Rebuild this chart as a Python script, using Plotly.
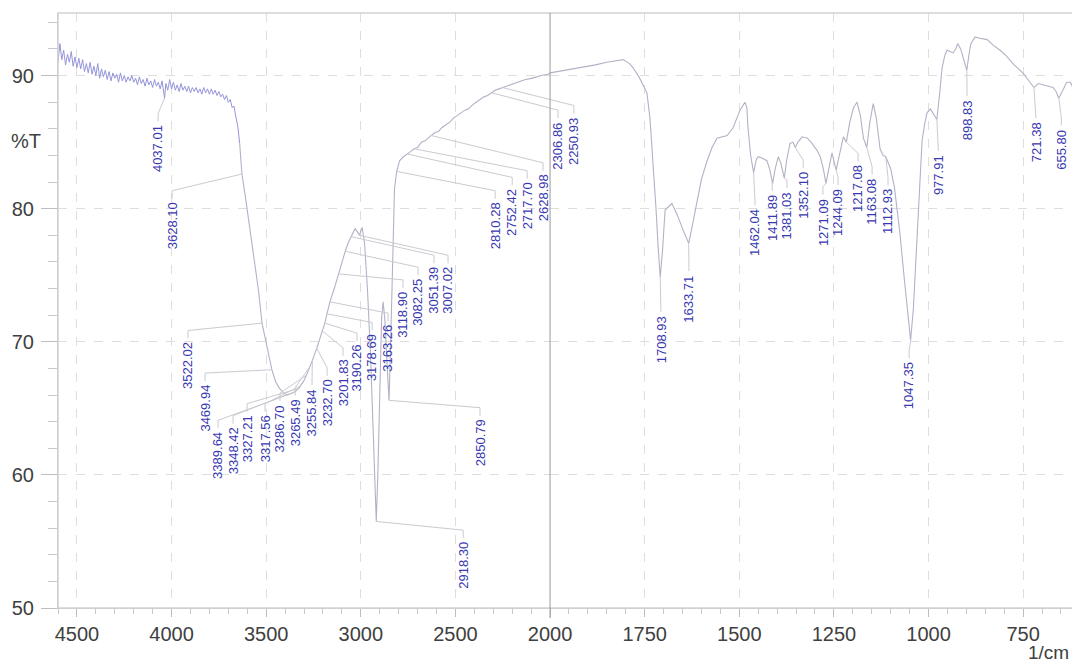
import plotly.graph_objects as go

# ---------------- data: IR spectrum (wavenumber in 1/cm, %T) ----------------
# high-wavenumber part (4600 -> 2000)
wn_high = [4600, 4590, 4580, 4570, 4560, 4550, 4540, 4530, 4520, 4510, 4500, 4490, 4480, 4470, 4460,
           4450, 4440, 4430, 4420, 4410, 4400, 4390, 4380, 4370, 4360, 4350, 4340, 4330, 4320, 4310,
           4300, 4290, 4280, 4270, 4260, 4250, 4240, 4230, 4220, 4210, 4200, 4190, 4180, 4170, 4160,
           4150, 4140, 4130, 4120, 4110, 4100, 4090, 4080, 4070, 4060, 4050, 4037.01, 4030, 4020, 4010,
           4000, 3990, 3980, 3970, 3960, 3950, 3940, 3930, 3920, 3910, 3900, 3890, 3880, 3870, 3860,
           3850, 3840, 3830, 3820, 3810, 3800, 3790, 3780, 3770, 3760, 3750, 3740, 3730, 3720, 3710,
           3700, 3690, 3680, 3670, 3660, 3650, 3640, 3628.10, 3610, 3590, 3570, 3550, 3540, 3522.02,
           3500, 3485, 3469.94, 3450, 3430, 3410, 3389.64, 3370, 3348.42, 3327.21, 3317.56, 3300,
           3286.70, 3265.49, 3255.84, 3232.70, 3201.83, 3190.26, 3178.69, 3163.26, 3140, 3118.90, 3100,
           3082.25, 3065, 3051.39, 3030, 3015, 3007.02, 2993, 2980, 2965, 2950, 2935, 2925, 2918.30,
           2910, 2900, 2890, 2882, 2872, 2862, 2850.79, 2842, 2832, 2822, 2810.28, 2795, 2775, 2752.42,
           2735, 2717.70, 2700, 2680, 2660, 2645, 2628.98, 2610, 2590, 2570, 2550, 2530, 2510, 2490,
           2470, 2450, 2430, 2410, 2390, 2370, 2350, 2330, 2306.86, 2290, 2270, 2250.93, 2230, 2210,
           2190, 2170, 2150, 2130, 2110, 2090, 2070, 2050, 2030, 2010, 2000]
t_high = [91.0, 92.4, 91.2, 91.9, 90.8, 91.6, 91.0, 91.8, 90.7, 91.4, 90.6, 91.3, 90.5, 91.2, 90.3,
          90.9, 90.2, 91.0, 90.1, 90.7, 90.0, 90.9, 89.8, 90.5, 89.9, 90.4, 89.7, 90.3, 89.6, 90.2,
          89.8, 90.1, 89.5, 90.2, 89.6, 90.0, 89.5, 89.9, 89.6, 90.0, 89.5, 89.8, 89.3, 89.9, 89.4,
          89.7, 89.2, 89.8, 89.3, 89.6, 89.1, 89.7, 89.2, 89.5, 89.0, 89.6, 88.3, 89.4, 88.9, 89.7,
          89.0, 89.5, 88.9, 89.3, 88.8, 89.4, 88.9, 89.2, 88.8, 89.2, 88.7, 89.1, 88.8, 89.1, 88.7,
          89.0, 88.6, 89.1, 88.7, 89.0, 88.6, 89.0, 88.6, 88.9, 88.5, 88.8, 88.4, 88.6, 88.2, 88.5,
          88.0, 88.2, 87.6, 87.7, 86.9, 86.2, 84.9, 82.6, 80.9, 78.9, 77.0, 75.0, 73.8, 71.4,
          69.8, 68.8, 67.9, 67.0, 66.5, 66.2, 66.0, 66.1, 66.25, 66.5, 66.7, 67.1,
          67.5, 68.2, 68.6, 69.5, 70.8, 71.4, 72.1, 73.0, 74.0, 75.1, 76.0,
          76.8, 77.5, 77.9, 78.5, 78.2, 78.0, 78.6, 77.4, 74.0, 69.5, 63.5, 58.8, 56.5,
          60.0, 67.0, 71.8, 73.0, 71.5, 68.5, 65.6, 70.0, 76.5, 81.5, 82.8, 83.6, 83.9, 84.1,
          84.3, 84.5, 84.6, 85.0, 85.1, 85.3, 85.5, 85.7, 85.8, 86.1, 86.3, 86.5, 86.8, 87.0,
          87.2, 87.4, 87.5, 87.8, 88.0, 88.2, 88.4, 88.5, 88.7, 88.9, 89.0, 89.1, 89.2, 89.3,
          89.4, 89.5, 89.6, 89.7, 89.75, 89.8, 89.9, 90.0, 90.05, 90.1, 90.2]

# low-wavenumber part (2000 -> 605, expanded scale)
wn_low = [2000, 1970, 1940, 1913, 1880, 1850, 1830, 1807, 1790, 1781, 1765, 1755, 1744, 1736, 1728,
          1720, 1715, 1708.93, 1703, 1696, 1685, 1678, 1670, 1662, 1650, 1640, 1633.71, 1625, 1612,
          1600, 1585, 1572, 1559, 1545, 1532, 1516, 1505, 1498, 1485, 1480, 1477, 1470, 1462.04,
          1455, 1450, 1440, 1427, 1420, 1411.89, 1405, 1397, 1390, 1381.03, 1375, 1366, 1358,
          1352.10, 1345, 1334, 1320, 1308, 1295, 1286, 1278, 1271.09, 1262, 1255, 1244.09, 1235,
          1225, 1217.08, 1208, 1198, 1189, 1180, 1172, 1163.08, 1155, 1146, 1138, 1128, 1120,
          1112.93, 1100, 1090, 1083, 1075, 1067, 1057, 1047.35, 1040, 1030, 1023, 1017, 1010, 1004,
          995, 985, 977.91, 970, 964, 957, 951, 943, 935, 928, 923, 915, 905, 898.83, 893, 888, 877,
          865, 845, 830, 811, 795, 777, 765, 751, 740, 730, 721.38, 710, 697, 685, 671, 663, 655.80,
          645, 635, 625, 617, 609, 605]
t_low = [90.2, 90.35, 90.5, 90.6, 90.8, 91.0, 91.1, 91.2, 90.9, 90.6, 89.9, 89.3, 88.7, 86.8, 83.6,
         80.0, 77.4, 74.85, 76.8, 79.9, 80.2, 80.4, 79.9, 79.4, 78.5, 77.8, 77.4, 78.6, 80.6,
         82.2, 83.6, 84.6, 85.3, 85.4, 85.5, 86.1, 86.9, 87.4, 88.0, 87.6, 86.1, 84.0, 82.7,
         83.7, 83.9, 83.8, 83.6, 83.0, 81.9, 83.0, 83.9, 83.4, 82.3, 83.6, 84.9, 85.0,
         84.6, 85.0, 85.4, 85.3, 84.9, 84.4, 83.9, 83.0, 81.9, 83.3, 84.2, 82.9, 84.0,
         85.4, 85.0, 86.5, 87.6, 88.0, 87.0, 85.3, 84.6, 86.5, 87.9, 86.8, 84.5, 84.0,
         83.9, 83.0, 81.6, 80.1, 78.0, 75.6, 72.5, 70.1, 72.5, 78.2, 82.0, 85.1, 86.4, 87.2,
         87.5, 87.0, 86.7, 88.8, 90.6, 91.5, 91.9, 91.8, 91.7, 92.0, 92.4, 92.0, 91.0, 90.4, 91.6, 92.4, 92.9,
         92.8, 92.7, 92.3, 91.9, 91.5, 90.9, 90.6, 90.2, 89.8, 89.4, 89.1, 89.4, 89.3, 89.2, 89.1, 88.8, 88.3,
         88.9, 89.5, 89.5, 89.0, 88.9, 88.5]

# labelled peaks (wavenumbers; %T is looked up in the spectrum)
peak_wn = [4037.01, 3628.10, 3522.02, 3469.94, 3389.64, 3348.42, 3327.21, 3317.56, 3286.70,
           3265.49, 3255.84, 3232.70, 3201.83, 3190.26, 3178.69, 3163.26, 3118.90, 3082.25,
           3051.39, 3007.02, 2918.30, 2850.79, 2810.28, 2752.42, 2717.70, 2628.98, 2306.86,
           2250.93, 1708.93, 1633.71, 1462.04, 1411.89, 1381.03, 1352.10, 1271.09, 1244.09,
           1217.08, 1163.08, 1112.93, 1047.35, 977.91, 898.83, 721.38, 655.80]

# ---------------- layout: where each peak label is placed (wavenumber, %T of label top) -------
label_pos = [(4071, 86.4), (3997, 80.6), (3913, 70.1), (3823, 66.9), (3754, 63.35), (3675, 63.7),
             (3601, 64.6), (3506, 64.6), (3427, 65.4), (3347, 65.8), (3258, 66.6), (3178, 67.3),
             (3094, 68.8), (3020, 69.9), (2940, 70.7), (2856, 71.4), (2777, 73.9), (2697, 74.85),
             (2613, 75.75), (2539, 75.75), (2459, 55.1), (2370, 64.3), (2290, 80.6), (2200, 81.6),
             (2121, 82.1), (2037, 82.7), (1979, 86.65), (1937, 87.0), (1707, 72.1), (1633, 75.15),
             (1458, 80.1), (1413, 81.2), (1374, 81.4), (1331, 82.9), (1279, 80.9), (1239, 81.6),
             (1186, 83.4), (1149, 82.4), (1107, 81.6), (1051, 68.6), (974, 84.2), (898, 88.3),
             (716, 86.65), (649, 86.1)]

SPLIT = 2000
LEFT_RANGE = [4600, 2000]
RIGHT_RANGE = [2000, 605]
D = 0.4824  # paper fraction of the compressed (high wavenumber) panel
Y_RANGE = [50, 94.7]

LABEL_COLOR = "#3838b0"
LEADER_COLOR = "#cacad2"
LINE_COLOR = "#b2b2c6"
AXIS_TEXT = "#404040"
FONT = "Liberation Sans, Arial, sans-serif"

spec = dict(zip(wn_high, t_high))
spec.update(dict(zip(wn_low, t_low)))

k_left = D / (LEFT_RANGE[0] - LEFT_RANGE[1])
k_right = (1 - D) / (RIGHT_RANGE[0] - RIGHT_RANGE[1])


def paper_x(w):
    if w >= SPLIT:
        return (LEFT_RANGE[0] - w) * k_left
    return D + (RIGHT_RANGE[0] - w) * k_right


fig = go.Figure()

# spectrum: noisy region, rest of high part, low part
n_noise = wn_high.index(3640) + 1
fig.add_trace(go.Scatter(x=wn_high[:n_noise], y=t_high[:n_noise], mode="lines",
                         line=dict(color="#9595da", width=1), xaxis="x", yaxis="y",
                         hoverinfo="skip", showlegend=False))
fig.add_trace(go.Scatter(x=wn_high[n_noise - 1:], y=t_high[n_noise - 1:], mode="lines",
                         line=dict(color=LINE_COLOR, width=1.1), xaxis="x", yaxis="y",
                         showlegend=False))
fig.add_trace(go.Scatter(x=wn_low, y=t_low, mode="lines",
                         line=dict(color=LINE_COLOR, width=1.1), xaxis="x2", yaxis="y",
                         showlegend=False))

# leader lines
lead = {"x": ([], []), "x2": ([], [])}
annotations = []
for w, (lw, ltop) in zip(peak_wn, label_pos):
    t0 = spec[w]
    p1 = (lw, ltop + 0.75)
    p2 = (lw, ltop + 0.15)
    ax0 = "x" if w >= SPLIT else "x2"
    ax1 = "x" if lw >= SPLIT else "x2"
    if ax0 == ax1:
        xs, ys = lead[ax0]
        xs += [w, p1[0], p2[0], None]
        ys += [t0, p1[1], p2[1], None]
    else:
        a, b = paper_x(w), paper_x(lw)
        f = (D - a) / (b - a)
        tc = t0 + f * (p1[1] - t0)
        xs, ys = lead[ax0]
        xs += [w, SPLIT, None]
        ys += [t0, tc, None]
        xs, ys = lead[ax1]
        xs += [SPLIT, p1[0], p2[0], None]
        ys += [tc, p1[1], p2[1], None]
    annotations.append(dict(x=lw, y=ltop, xref=ax1, yref="y", text=f"{w:.2f}",
                            textangle=-90, xanchor="center", yanchor="top", showarrow=False,
                            font=dict(size=13, color=LABEL_COLOR, family=FONT)))

for ax, (xs, ys) in lead.items():
    fig.add_trace(go.Scatter(x=xs, y=ys, mode="lines", line=dict(color=LEADER_COLOR, width=1),
                             xaxis=ax, yaxis="y", hoverinfo="skip", showlegend=False))

annotations.append(dict(x=-0.0314, y=0.785, xref="paper", yref="paper", text="%T",
                        xanchor="center", yanchor="middle", showarrow=False,
                        font=dict(size=20, color=AXIS_TEXT, family=FONT)))
annotations.append(dict(x=0.9715, y=-0.0756, xref="paper", yref="paper", text="1/cm",
                        xanchor="center", yanchor="middle", showarrow=False,
                        font=dict(size=19, color=AXIS_TEXT, family=FONT)))

grid = dict(showgrid=True, gridcolor="#dedede", griddash="dash", gridwidth=1)
common_x = dict(ticks="outside", ticklen=8, tickcolor="#bdbdbd", showline=True,
                linecolor="#c4c4c4", zeroline=False, automargin=False,
                tickfont=dict(size=20, color=AXIS_TEXT, family=FONT),
                ticklabelstandoff=0, **grid)

# the page body has an 8px margin, so the figure is sized/offset to fit the 1080x664 window
fig.update_layout(
    width=1072, height=656,
    margin=dict(l=50, r=2, t=5, b=56, autoexpand=False),
    plot_bgcolor="white", paper_bgcolor="white",
    xaxis=dict(domain=[0, D], range=LEFT_RANGE, tickvals=[4500, 4000, 3500, 3000, 2500],
               minor=dict(dtick=100, tick0=0, ticks="outside", ticklen=5, tickcolor="#c8c8c8"),
               anchor="y", **common_x),
    xaxis2=dict(domain=[D, 1], range=RIGHT_RANGE, tickvals=[2000, 1750, 1500, 1250, 1000, 750],
                minor=dict(dtick=50, tick0=0, ticks="outside", ticklen=5, tickcolor="#c8c8c8"),
                anchor="y", **common_x),
    yaxis=dict(range=Y_RANGE, tickvals=[50, 60, 70, 80, 90], ticks="outside", ticklen=16,
               tickcolor="#bdbdbd", showline=True, linecolor="#c4c4c4", zeroline=False,
               automargin=False,
               minor=dict(dtick=2, tick0=0, ticks="outside", ticklen=9, tickcolor="#c8c8c8"),
               tickfont=dict(size=20, color=AXIS_TEXT, family=FONT), ticklabelstandoff=3, **grid),
    annotations=annotations,
    shapes=[
        dict(type="rect", xref="paper", yref="paper", x0=0, x1=1, y0=0, y1=1,
             line=dict(color="#d2d2d2", width=1.5), layer="above"),
        dict(type="line", xref="paper", yref="paper", x0=D, x1=D, y0=-0.017, y1=1,
             line=dict(color="#9a9a9a", width=1), layer="above"),
    ],
    showlegend=False,
)

fig.write_html("out.html")
